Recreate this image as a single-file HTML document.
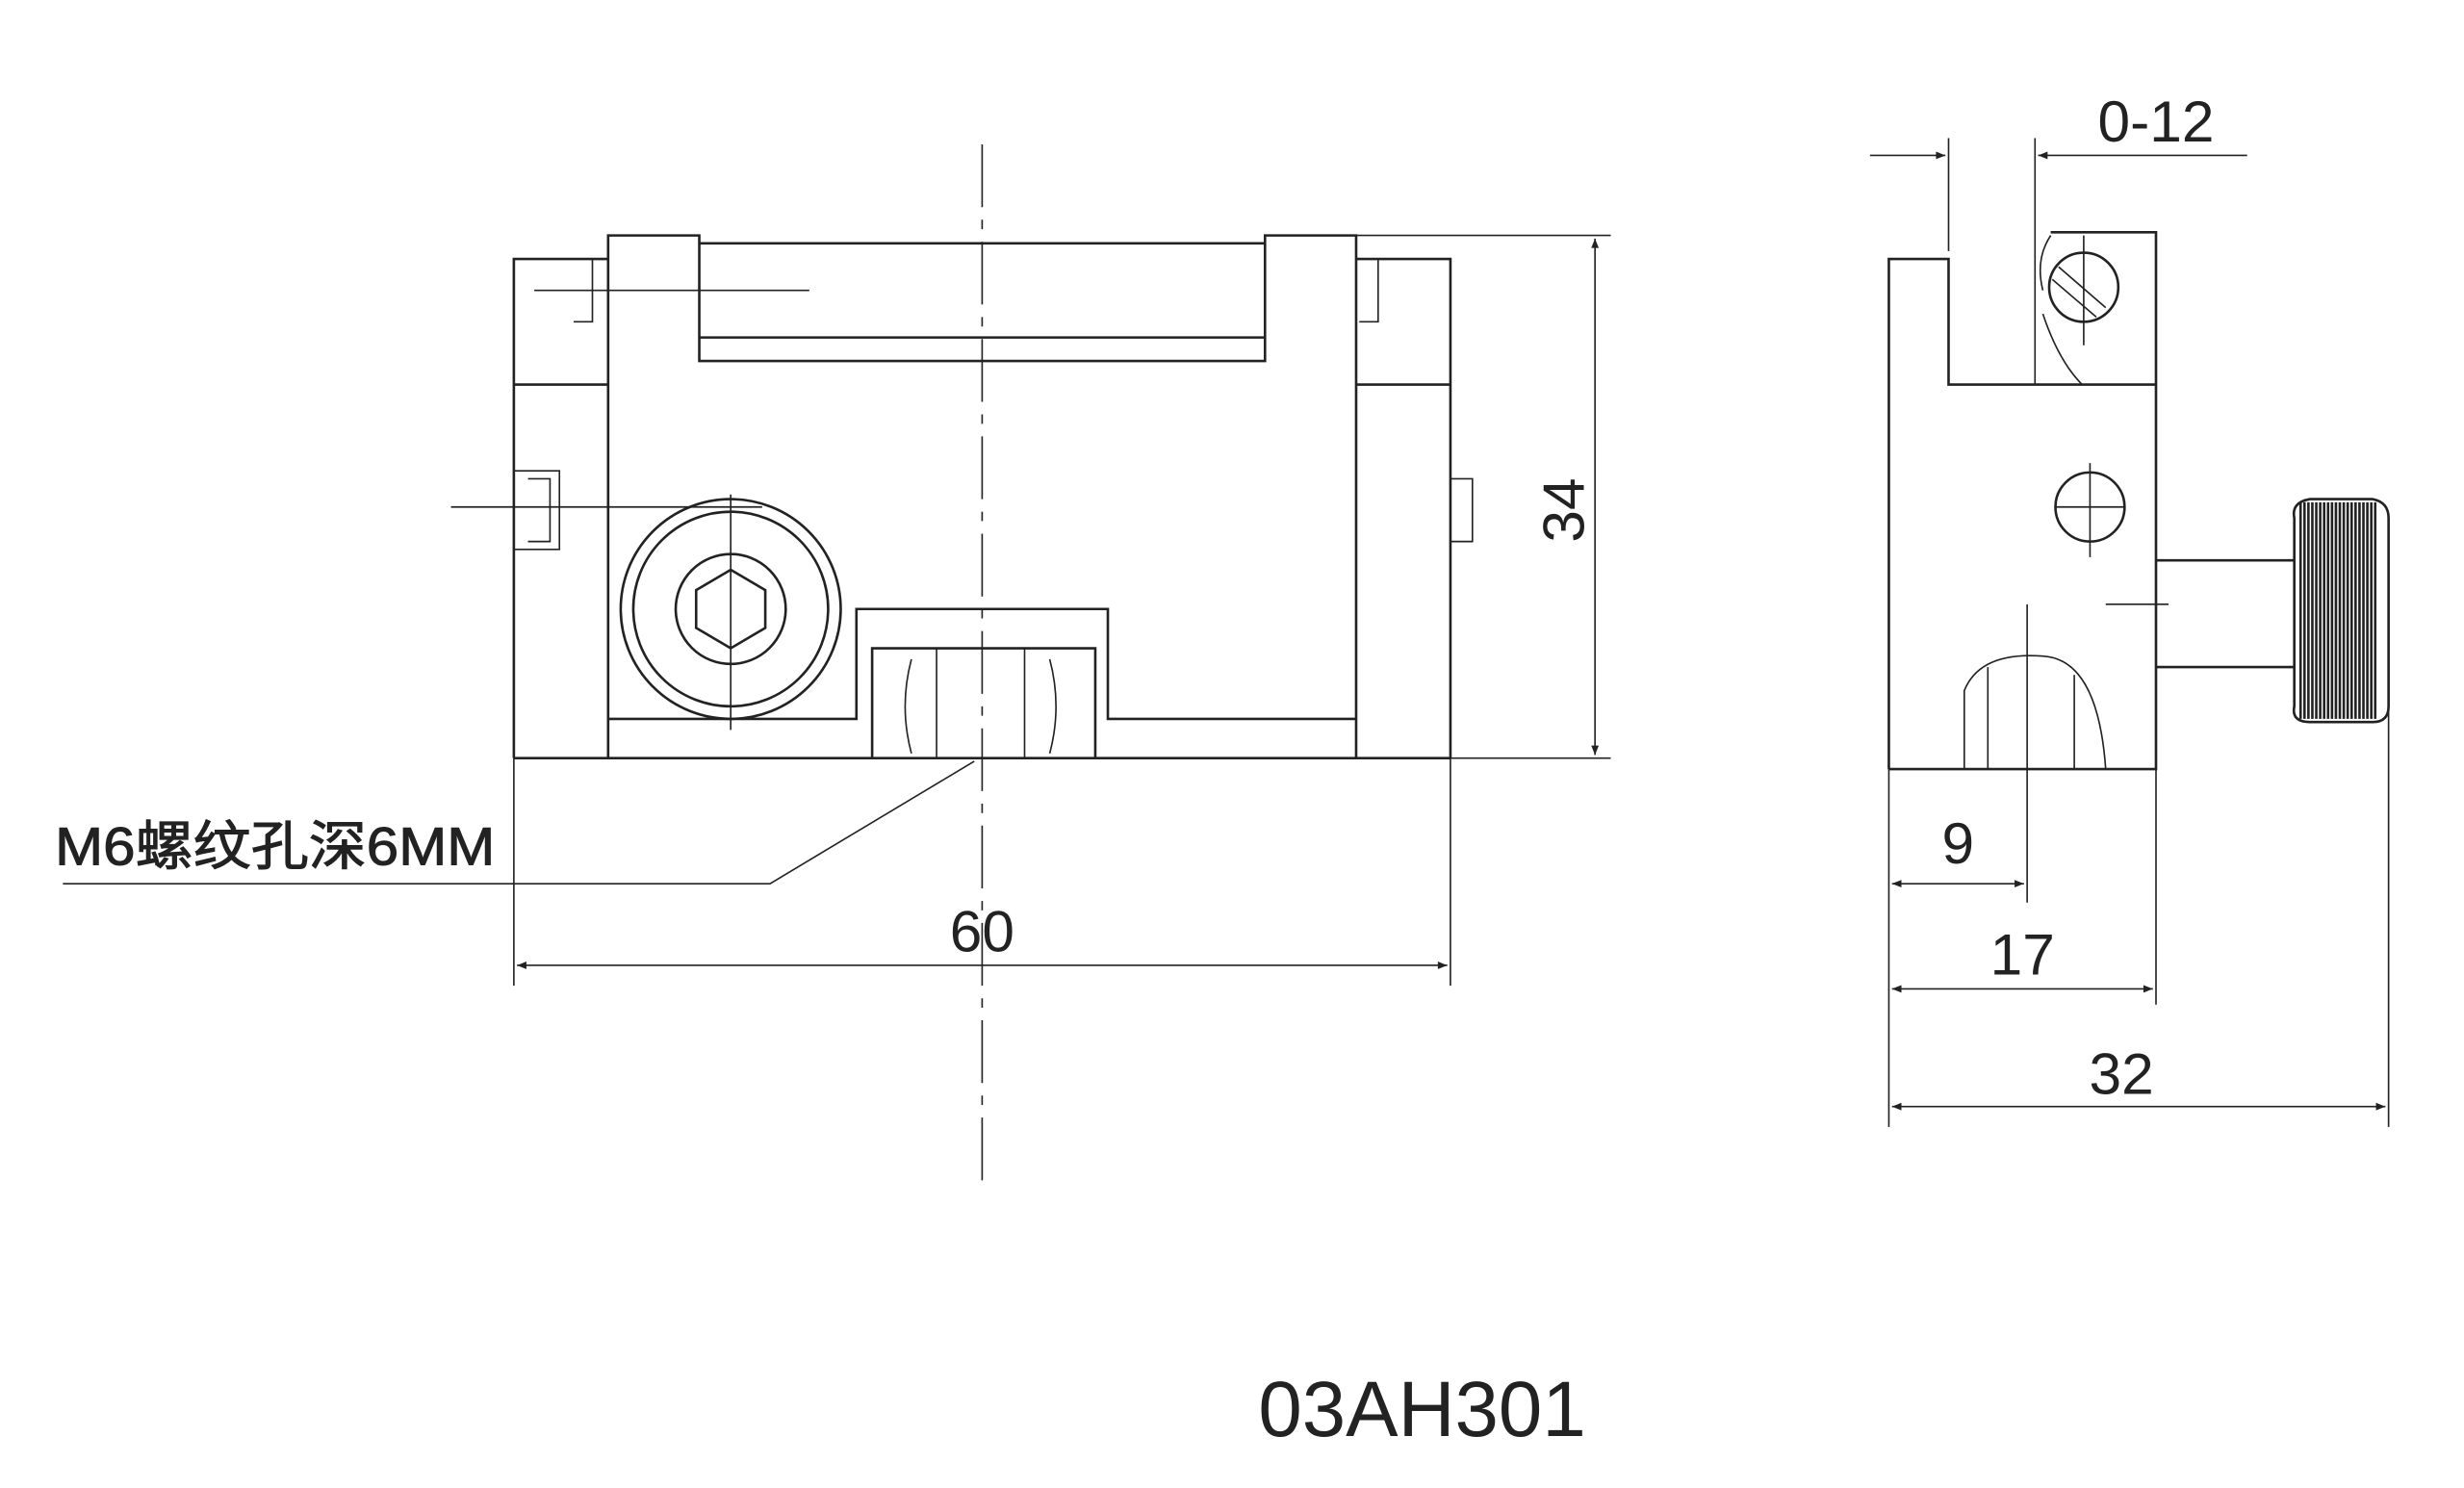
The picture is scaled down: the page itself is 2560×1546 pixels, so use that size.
<!DOCTYPE html>
<html><head><style>html,body{margin:0;padding:0;background:#fff}svg{display:block}</style></head><body>
<svg width="2560" height="1546" viewBox="0 0 1568 948" preserveAspectRatio="none" xmlns="http://www.w3.org/2000/svg">
<defs>
<marker id="a" viewBox="0 0 10 10" refX="10" refY="5" markerWidth="14" markerHeight="6" orient="auto-start-reverse" markerUnits="userSpaceOnUse"><path d="M0,1 L10,5 L0,9 z" fill="#222"/></marker>
</defs>
<g fill="none" stroke="#222" stroke-width="1.6">
<path d="M327,483 V165 H387 M327,245 H387 M387,483 V150 H445 V230 H805 V150 H863 V483 M445,155 H805 M445,215 H805 M863,165 H923 V483 M863,245 H923 M327,483 H923"/>
<path d="M387,458 H545 V388 H705 V458 H863 M555,483 V413 H697 V483"/>
<path d="M580,420 q-8,30 0,60 M596,413 V483 M652,413 V483 M668,420 q8,30 0,60" stroke-width="1"/>
<circle cx="465" cy="388" r="70"/><circle cx="465" cy="388" r="62"/><circle cx="465" cy="388" r="35"/>
<polygon points="465,363 487,376 487,400 465,413 443,400 443,376"/>
<path d="M327,300 H356 V350 H327 M336,305 h14 v40 h-14 M923,305 h14 v40 h-14 M365,165 h12 v40 h-12 M865,165 h12 v40 h-12" stroke-width="1"/>
<path d="M625,92 V755" stroke-width="1" stroke-dasharray="40,8,6,8"/>
<path d="M287,323 H485 M340,185 H515 M465,315 V465" stroke-width="1"/>
<path d="M863,150 H1025 M923,483 H1025 M327,483 V628 M923,483 V628" stroke-width="1"/>
<path d="M1015,152 V481" stroke-width="1" marker-start="url(#a)" marker-end="url(#a)"/>
<path d="M329,615 H921" stroke-width="1" marker-start="url(#a)" marker-end="url(#a)"/>
<path d="M620,485 L490,563 H40" stroke-width="1"/>
<path d="M1202,490 V165 H1240 V245 H1372 V148 H1305 M1202,490 H1372 V148"/>
<circle cx="1326" cy="183" r="22"/><path d="M1310,170 l30,26 M1306,178 l28,24" stroke-width="1"/>
<circle cx="1330" cy="323" r="22"/><path d="M1308,323 H1352" stroke-width="1"/>
<path d="M1295,88 V245 M1240,88 V160 M1326,150 V220 M1330,295 V355 M1290,385 V575 M1340,385 H1380" stroke-width="1"/>
<path d="M1300,200 Q1310,230 1325,245 M1305,150 Q1295,165 1300,185" stroke-width="1"/>
<path d="M1250,490 V440 Q1260,415 1300,418 Q1335,420 1340,490 M1265,425 V490 M1320,430 V490" stroke-width="1"/>
<path d="M1372,357 H1460 M1372,425 H1460 M1460,330 Q1458,320 1470,318 H1510 Q1520,320 1520,330 V450 Q1520,460 1510,460 H1470 Q1458,460 1460,450 Z"/>
<g stroke-width="1.6"><path d="M1464,320 V458 M1466.5,320 V458 M1469,320 V458 M1471.5,320 V458 M1474,320 V458 M1476.5,320 V458 M1479,320 V458 M1481.5,320 V458 M1484,320 V458 M1486.5,320 V458 M1489,320 V458 M1491.5,320 V458 M1494,320 V458 M1496.5,320 V458 M1499,320 V458 M1501.5,320 V458 M1504,320 V458 M1506.5,320 V458 M1509,320 V458 M1511.5,320 V458"/></g>
<path d="M1520,330 V718 M1202,490 V718 M1372,490 V640" stroke-width="1"/>
<path d="M1204,563 H1288" stroke-width="1" marker-start="url(#a)" marker-end="url(#a)"/>
<path d="M1204,630 H1370" stroke-width="1" marker-start="url(#a)" marker-end="url(#a)"/>
<path d="M1204,705 H1518" stroke-width="1" marker-start="url(#a)" marker-end="url(#a)"/>
<path d="M1190,99 H1238" stroke-width="1" marker-end="url(#a)"/>
<path d="M1430,99 H1297" stroke-width="1" marker-end="url(#a)"/>
</g>
<g font-family="Liberation Sans, sans-serif" fill="#222" font-size="37">
<text x="1008" y="325" transform="rotate(-90 1008 325)" text-anchor="middle">34</text>
<text x="625" y="606" text-anchor="middle">60</text>
<text x="1246" y="550" text-anchor="middle">9</text>
<text x="1287" y="621" text-anchor="middle">17</text>
<text x="1350" y="697" text-anchor="middle">32</text>
<text x="1372" y="90" text-anchor="middle">0-12</text>
<text x="35" y="551" font-size="34" textLength="280" lengthAdjust="spacingAndGlyphs" stroke="#222" stroke-width="0.6" font-family="Liberation Sans, 'Noto Sans CJK SC', sans-serif">M6螺纹孔深6MM</text>
<text x="905" y="915" text-anchor="middle" font-size="50">03AH301</text>
</g>
</svg>
</body></html>
